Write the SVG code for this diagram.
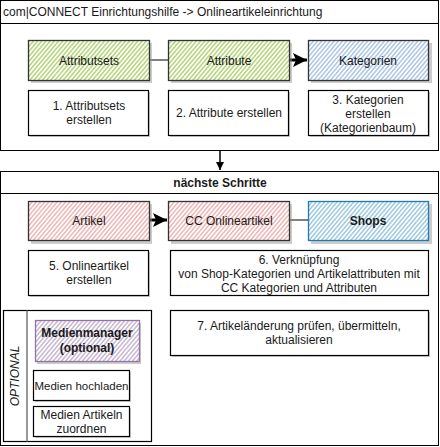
<svg xmlns="http://www.w3.org/2000/svg" width="440" height="447" viewBox="0 0 440 447">
<defs>
<pattern id="hg" patternUnits="userSpaceOnUse" width="3.2" height="4" patternTransform="rotate(40)"><line x1="0.8" y1="0" x2="0.8" y2="4" stroke="#a7cf62" stroke-width="1.3"/></pattern>
<pattern id="hb" patternUnits="userSpaceOnUse" width="3.2" height="4" patternTransform="rotate(40)"><line x1="0.8" y1="0" x2="0.8" y2="4" stroke="#9fbde4" stroke-width="1.3"/></pattern>
<pattern id="hr" patternUnits="userSpaceOnUse" width="3.2" height="4" patternTransform="rotate(40)"><line x1="0.8" y1="0" x2="0.8" y2="4" stroke="#eeaaa7" stroke-width="1.3"/></pattern>
<pattern id="hs" patternUnits="userSpaceOnUse" width="3.2" height="4" patternTransform="rotate(40)"><line x1="0.8" y1="0" x2="0.8" y2="4" stroke="#8fc0dc" stroke-width="1.3"/></pattern>
<pattern id="hp" patternUnits="userSpaceOnUse" width="3.2" height="4" patternTransform="rotate(40)"><line x1="0.8" y1="0" x2="0.8" y2="4" stroke="#bfaccb" stroke-width="1.3"/></pattern>
<marker id="ah" markerWidth="10" markerHeight="10" refX="8" refY="5" orient="auto" markerUnits="userSpaceOnUse"><path d="M0,1 L8,5 L0,9 Z" fill="#000"/></marker>
<marker id="ahb" markerWidth="16" markerHeight="14" refX="14" refY="7" orient="auto" markerUnits="userSpaceOnUse"><path d="M0,0 L14,7 L0,14 L3,7 Z" fill="#000"/></marker>
</defs>
<style>
text{font-family:"Liberation Sans",Arial,sans-serif;font-size:12px;fill:#1a1a1a}
.c{text-anchor:middle}
.b{font-weight:bold}
.fr{fill:#fff;stroke:#000;stroke-width:1}
.sh{fill:#999;opacity:0.5}
.box{stroke:#333;stroke-width:1.3}
.tb{fill:#fff;stroke:#000;stroke-width:1.2}
</style>
<rect width="440" height="447" fill="#fff"/>
<g id="frame1">
<rect class="fr" x="0.5" y="0.5" width="438" height="150"/>
<line x1="0.5" y1="23.5" x2="438.5" y2="23.5" stroke="#000"/>
<text x="3" y="16">com|CONNECT Einrichtungshilfe -&gt; Onlineartikeleinrichtung</text>
</g>
<g id="frame2">
<rect class="fr" x="0.5" y="171.5" width="438" height="274"/>
<line x1="0.5" y1="193.5" x2="438.5" y2="193.5" stroke="#000"/>
<text class="c b" x="220" y="187">nächste Schritte</text>
</g>
<g id="connectors">
<line x1="149" y1="60" x2="168" y2="60" stroke="#000" stroke-width="1"/>
<line x1="289" y1="60" x2="307" y2="60" stroke="#000" stroke-width="3" marker-end="url(#ahb)"/>
<line x1="149" y1="220" x2="167" y2="220" stroke="#000" stroke-width="3" marker-end="url(#ahb)"/>
<line x1="289" y1="220" x2="308" y2="220" stroke="#000" stroke-width="1"/>
<line x1="220" y1="151" x2="220" y2="170" stroke="#000" stroke-width="1.5" marker-end="url(#ah)"/>
</g>
<g id="attributsets">
<rect class="sh" x="31" y="43" width="121" height="40"/>
<rect x="28.5" y="40.5" width="121" height="40" fill="#fff"/>
<rect class="box" x="28.5" y="40.5" width="121" height="40" fill="url(#hg)"/>
<text class="c" x="89" y="65">Attributsets</text>
</g>
<g id="attribute">
<rect class="sh" x="171" y="43" width="121" height="40"/>
<rect x="168.5" y="40.5" width="121" height="40" fill="#fff"/>
<rect class="box" x="168.5" y="40.5" width="121" height="40" fill="url(#hg)"/>
<text class="c" x="229" y="65">Attribute</text>
</g>
<g id="kategorien">
<rect class="sh" x="311" y="43" width="121" height="40"/>
<rect x="308.5" y="40.5" width="120" height="40" fill="#fff"/>
<rect class="box" x="308.5" y="40.5" width="120" height="40" fill="url(#hb)" stroke="#555"/>
<text class="c" x="368" y="65">Kategorien</text>
</g>
<g id="step1">
<rect class="sh" x="30" y="92" width="120" height="45"/>
<rect class="tb" x="28.5" y="90.5" width="120" height="45"/>
<text class="c" x="89" y="110">1. Attributsets</text>
<text class="c" x="89" y="124">erstellen</text>
</g>
<g id="step2">
<rect class="sh" x="170" y="92" width="120" height="45"/>
<rect class="tb" x="168.5" y="90.5" width="120" height="45"/>
<text class="c" x="229" y="117">2. Attribute erstellen</text>
</g>
<g id="step3">
<rect class="sh" x="310" y="92" width="120" height="45"/>
<rect class="tb" x="308.5" y="90.5" width="120" height="45"/>
<text class="c" x="368" y="104">3. Kategorien</text>
<text class="c" x="368" y="118">erstellen</text>
<text class="c" x="368" y="132">(Kategorienbaum)</text>
</g>
<g id="artikel">
<rect class="sh" x="31" y="204" width="121" height="40"/>
<rect x="28.5" y="201.5" width="121" height="39" fill="#fff"/>
<rect class="box" x="28.5" y="201.5" width="121" height="39" fill="url(#hr)"/>
<text class="c" x="89" y="225">Artikel</text>
</g>
<g id="cc-onlineartikel">
<rect class="sh" x="171" y="204" width="121" height="40"/>
<rect x="168.5" y="201.5" width="121" height="39" fill="#fff"/>
<rect class="box" x="168.5" y="201.5" width="121" height="39" fill="url(#hr)"/>
<text class="c" x="229" y="225">CC Onlineartikel</text>
</g>
<g id="shops">
<rect class="sh" x="311" y="204" width="121" height="40"/>
<rect x="308.5" y="201.5" width="120" height="39" fill="#fff"/>
<rect x="308.5" y="201.5" width="120" height="39" fill="url(#hs)" stroke="#1f7bb0" stroke-width="1.3"/>
<text class="c b" x="368" y="225">Shops</text>
</g>
<g id="step5">
<rect class="sh" x="30" y="252" width="120" height="45"/>
<rect class="tb" x="28.5" y="250.5" width="120" height="45"/>
<text class="c" x="89" y="270">5. Onlineartikel</text>
<text class="c" x="89" y="284">erstellen</text>
</g>
<g id="step6">
<rect class="tb" x="170.5" y="250.5" width="258" height="45"/>
<text class="c" x="299" y="264">6. Verknüpfung</text>
<text class="c" x="299" y="278">von Shop-Kategorien und Artikelattributen mit</text>
<text class="c" x="299" y="292">CC Kategorien und Attributen</text>
</g>
<g id="step7">
<rect class="sh" x="172" y="312" width="258" height="45"/>
<rect class="tb" x="170.5" y="310.5" width="258" height="45"/>
<text class="c" x="299" y="330">7. Artikeländerung prüfen, übermitteln,</text>
<text class="c" x="299" y="344">aktualisieren</text>
</g>
<g id="optional">
<rect x="3.5" y="310.5" width="148" height="131" fill="#fff" stroke="#000" stroke-width="1.2"/>
<line x1="27" y1="310.5" x2="27" y2="441.5" stroke="#777" stroke-width="1.5"/>
<text class="c" transform="translate(19,376) rotate(-90)" style="font-style:italic">OPTIONAL</text>
</g>
<g id="medienmanager">
<rect class="sh" x="37" y="323" width="104" height="41"/>
<rect x="35.5" y="320.5" width="104" height="41" fill="#fff"/>
<rect x="35.5" y="320.5" width="104" height="41" fill="url(#hp)" stroke="#9673a6" stroke-width="1.3"/>
<text class="c b" x="87" y="337">Medienmanager</text>
<text class="c b" x="87" y="352">(optional)</text>
</g>
<g id="medien-hochladen">
<rect class="sh" x="35" y="372" width="96" height="30"/>
<rect class="tb" x="33.5" y="370.5" width="96" height="30"/>
<text class="c" x="81.5" y="390" style="font-size:11.5px">Medien hochladen</text>
</g>
<g id="medien-zuordnen">
<rect class="sh" x="35" y="408" width="96" height="30"/>
<rect class="tb" x="33.5" y="406.5" width="96" height="30"/>
<text class="c" x="81.5" y="419">Medien Artikeln</text>
<text class="c" x="81.5" y="433">zuordnen</text>
</g>
</svg>
